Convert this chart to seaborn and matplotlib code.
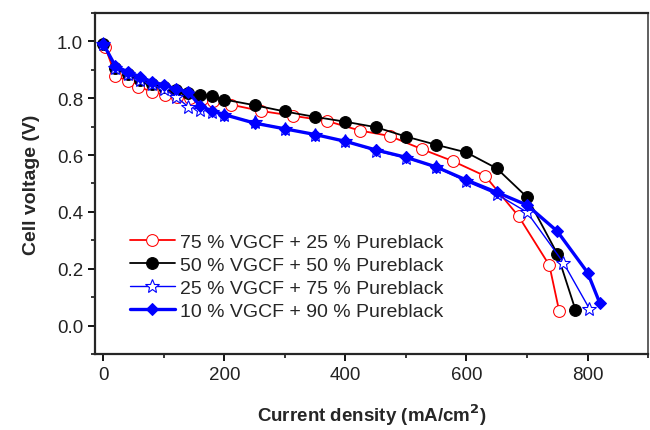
import numpy as np
import pandas as pd
import seaborn as sns
import matplotlib.pyplot as plt
from matplotlib.ticker import MultipleLocator

# polarization curves
x_75 = [3, 20, 40, 58, 81, 102, 122, 143, 163, 181, 211, 260, 313, 369, 424, 473, 526, 577, 631, 686, 737, 753]
v_75 = [0.98, 0.879, 0.861, 0.840, 0.822, 0.812, 0.805, 0.800, 0.797, 0.791, 0.777, 0.755, 0.738, 0.720, 0.686, 0.667, 0.621, 0.579, 0.526, 0.385, 0.212, 0.053]

x_50 = [0, 20, 40, 60, 80, 100, 120, 140, 160, 180, 200, 250, 300, 350, 400, 450, 500, 550, 600, 650, 700, 750, 780]
v_50 = [0.99, 0.905, 0.885, 0.865, 0.850, 0.838, 0.828, 0.818, 0.812, 0.806, 0.795, 0.775, 0.753, 0.734, 0.717, 0.698, 0.665, 0.636, 0.609, 0.553, 0.452, 0.253, 0.056]

x_25 = [0, 20, 40, 60, 80, 100, 120, 140, 160, 180, 200, 250, 300, 350, 400, 450, 500, 550, 600, 650, 700, 760, 803]
v_25 = [0.99, 0.905, 0.885, 0.865, 0.848, 0.832, 0.805, 0.770, 0.760, 0.750, 0.740, 0.715, 0.692, 0.672, 0.648, 0.615, 0.590, 0.557, 0.507, 0.462, 0.399, 0.222, 0.060]

x_10 = [0, 20, 40, 60, 80, 100, 120, 140, 160, 180, 200, 250, 300, 350, 400, 450, 500, 550, 600, 650, 700, 750, 800, 820]
v_10 = [0.99, 0.912, 0.893, 0.875, 0.858, 0.845, 0.833, 0.822, 0.772, 0.755, 0.742, 0.712, 0.692, 0.672, 0.648, 0.618, 0.592, 0.558, 0.512, 0.469, 0.424, 0.332, 0.187, 0.081]

labels = ['75 % VGCF + 25 % Pureblack', '50 % VGCF + 50 % Pureblack',
          '25 % VGCF + 75 % Pureblack', '10 % VGCF + 90 % Pureblack']

sns.set_style("ticks")
plt.rcParams['font.family'] = ['Liberation Sans', 'DejaVu Sans']

fig = plt.figure(figsize=(6.5, 4.31), dpi=100)
ax = fig.add_axes([0.146, 0.176, 0.851, 0.792])

styles = [
    dict(color='red', marker='o', markersize=8.5, markerfacecolor='white', markeredgecolor='red', linewidth=1.3),
    dict(color='black', marker='o', markersize=8.5, markerfacecolor='black', markeredgecolor='black', linewidth=1.3),
    dict(color='blue', marker='*', markersize=10, markerfacecolor='white', markeredgecolor='blue', markeredgewidth=0.8, linewidth=1.0),
    dict(color='blue', marker='D', markersize=6.5, markerfacecolor='blue', markeredgecolor='blue', linewidth=2.4),
]
for xs, vs, lab, st in zip([x_75, x_50, x_25, x_10], [v_75, v_50, v_25, v_10], labels, styles):
    df = pd.DataFrame({'j': xs, 'V': vs})
    sns.lineplot(data=df, x='j', y='V', ax=ax, label=lab, sort=False, estimator=None, **st)

ax.set_xlim(-14, 900)
ax.set_ylim(-0.1, 1.1)
ax.xaxis.set_major_locator(MultipleLocator(200))
ax.xaxis.set_minor_locator(MultipleLocator(100))
ax.yaxis.set_major_locator(MultipleLocator(0.2))
ax.yaxis.set_minor_locator(MultipleLocator(0.1))
ax.yaxis.set_major_formatter(plt.FormatStrFormatter('%.1f'))
ax.tick_params(which='major', direction='out', length=5, width=1.3, labelsize=13.5, colors='black', labelcolor='#222222')
ax.tick_params(which='minor', direction='out', length=3, width=1.3)
ax.tick_params(top=False, right=False)
for s in ['left', 'bottom', 'top']:
    ax.spines[s].set_linewidth(1.6)
ax.spines['right'].set_linewidth(1.2)
ax.spines['right'].set_color('#444444')

ax.set_xlabel('Current density (mA/cm$^\\mathbf{2}$)', fontsize=13.5, fontweight='bold', labelpad=13)
ax.set_ylabel('Cell voltage (V)', fontsize=14, fontweight='bold', labelpad=12)

leg = ax.legend(loc='lower left', bbox_to_anchor=(0.035, 0.055), frameon=False, fontsize=14,
                handlelength=2.3, labelspacing=0.27, handletextpad=0.3, borderpad=0.3)

fig.savefig('out.png', dpi=100)
